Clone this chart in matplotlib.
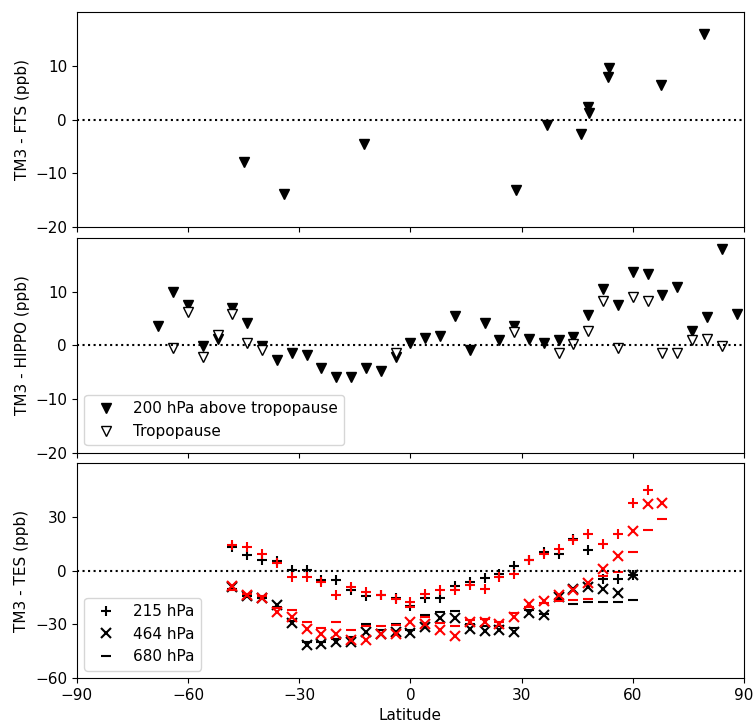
import numpy as np
import matplotlib
matplotlib.use('Agg')
import matplotlib.pyplot as plt

nan = np.nan

# TM3 - FTS
fts_lat = [-44.9, -34.1, -12.4, 28.4, 36.8, 46.1, 47.9, 48.1, 53.5, 53.4, 67.7, 79.3]
fts_diff = [-7.9, -13.8, -4.6, -13.1, -0.9, -2.7, 2.4, 1.3, 9.6, 8.0, 6.5, 15.9]

# TM3 - HIPPO, 4 degree latitude bins
hippo_lat = np.arange(-68, 89, 4)
hippo_200 = [3.6, 10.0, 7.5, -0.2, 1.1, 6.9, 4.2, -0.2, -2.8, -1.4,
             -1.9, -4.2, -5.9, -5.9, -4.3, -4.8, -2.1, 0.4, 1.4, 1.7,
             5.5, -0.8, 4.2, 0.9, 3.6, 1.1, 0.4, 1.0, 1.6, 5.6,
             10.4, 7.4, 13.6, 13.3, 9.4, 10.8, 2.7, 5.2, 17.9, 5.8]
hippo_trop = [nan, -0.6, 6.2, -2.2, 1.9, 5.8, 0.4, -0.8, nan, nan,
              nan, nan, nan, nan, nan, nan, -1.4, nan, nan, nan,
              nan, nan, nan, nan, 2.4, nan, nan, -1.4, 0.3, 2.6,
              8.2, -0.6, 8.9, 8.2, -1.5, -1.5, 0.9, 1.2, -0.1, nan]

# TM3 - TES, black and red runs at three pressure levels
tes_lat = np.arange(-48, 69, 4)
k215 = [13.3, 8.7, 5.9, 5.3, 0.5, 0.4, -4.9, -4.9, -10.5, -14.3,
        -13.7, -15.0, -19.8, -15.0, -15.0, -8.7, -6.3, -3.8, -2.0, 2.5,
        5.9, 10.7, 9.2, 17.9, 11.5, -4.4, -4.8, -2.5, nan, nan]
k464 = [-8.9, -14.3, -15.0, -19.3, -29.2, -41.6, -41.1, -39.8, -39.8, -34.2,
        -35.5, -34.2, -34.7, -31.4, -26.2, -26.2, -32.3, -33.7, -32.9, -34.2,
        -23.6, -24.9, -14.6, -10.0, -9.0, -10.0, -12.4, -2.5, nan, nan]
k680 = [-10.0, -14.0, -15.0, -20.0, -28.0, -40.0, -40.0, -38.0, -37.0, -29.5,
        -33.0, -29.5, -33.0, -24.9, -23.0, -22.4, -30.0, -31.0, -31.0, -32.0,
        -22.0, -24.0, -16.0, -18.3, -17.4, -17.4, -17.4, -16.1, nan, nan]
r215 = [14.6, 13.3, 9.6, 4.3, -3.3, -3.4, -6.3, -13.3, -9.0, -11.8,
        -13.7, -15.6, -17.4, -13.1, -10.5, -10.9, -8.1, -10.0, -3.2, -1.6,
        5.9, 9.2, 12.4, 17.4, 20.8, 15.2, 20.4, 37.6, 45.4, nan]
r464 = [-8.7, -13.7, -15.0, -23.0, -25.8, -32.3, -35.5, -35.1, -38.9, -38.9,
        -35.5, -35.1, -28.6, -29.9, -33.3, -36.6, -28.6, -28.6, -29.9, -25.8,
        -18.7, -16.9, -13.3, -10.9, -6.8, 1.2, 8.1, 22.1, 37.2, 37.9]
r680 = [-10.5, -13.0, -14.0, -21.0, -22.0, -28.6, -31.8, -28.6, -33.3, -31.0,
        -31.0, -30.4, -20.5, -25.8, -29.0, -31.0, -27.3, -26.8, -28.6, -23.6,
        -20.0, -18.0, -16.9, -16.5, -15.6, -3.0, -0.7, 10.5, 23.0, 29.2]

plt.rcParams['font.size'] = 11

fig, axes = plt.subplots(3, 1, sharex=True, figsize=(7.53, 7.23), dpi=100)
fig.subplots_adjust(left=0.102, right=0.988, top=0.983, bottom=0.062, hspace=0.05)

# FTS panel
ax = axes[0]
ax.plot(fts_lat, fts_diff, 'kv', ms=7.5, ls='none')
ax.axhline(0, color='k', ls=':', lw=1.5)
ax.set_ylim(-20, 20)
ax.set_yticks([-20, -10, 0, 10])
ax.set_ylabel('TM3 - FTS (ppb)')

# HIPPO panel
ax = axes[1]
ax.plot(hippo_lat, hippo_200, 'kv', ms=7.5, ls='none', label='200 hPa above tropopause')
ax.plot(hippo_lat, hippo_trop, 'v', ms=7.5, ls='none', mfc='white', mec='k',
        label='Tropopause')
ax.axhline(0, color='k', ls=':', lw=1.5)
ax.set_ylim(-20, 20)
ax.set_yticks([-20, -10, 0, 10])
ax.set_ylabel('TM3 - HIPPO (ppb)')
ax.legend(loc='lower left')

# TES panel
ax = axes[2]
ax.plot(tes_lat, k215, 'k+', ms=7, mew=1.5, ls='none', label='215 hPa')
ax.plot(tes_lat, k464, 'kx', ms=7, mew=1.5, ls='none', label='464 hPa')
ax.plot(tes_lat, k680, 'k_', ms=7, mew=1.5, ls='none', label='680 hPa')
ax.plot(tes_lat, r215, 'r+', ms=7, mew=1.5, ls='none')
ax.plot(tes_lat, r464, 'rx', ms=7, mew=1.5, ls='none')
ax.plot(tes_lat, r680, 'r_', ms=7, mew=1.5, ls='none')
ax.axhline(0, color='k', ls=':', lw=1.5)
ax.set_ylim(-60, 60)
ax.set_yticks([-60, -30, 0, 30])
ax.set_ylabel('TM3 - TES (ppb)')
ax.legend(loc='lower left')

ax.set_xlim(-90, 90)
ax.set_xticks(np.arange(-90, 91, 30))
ax.set_xlabel('Latitude')

plt.savefig('out.png')
